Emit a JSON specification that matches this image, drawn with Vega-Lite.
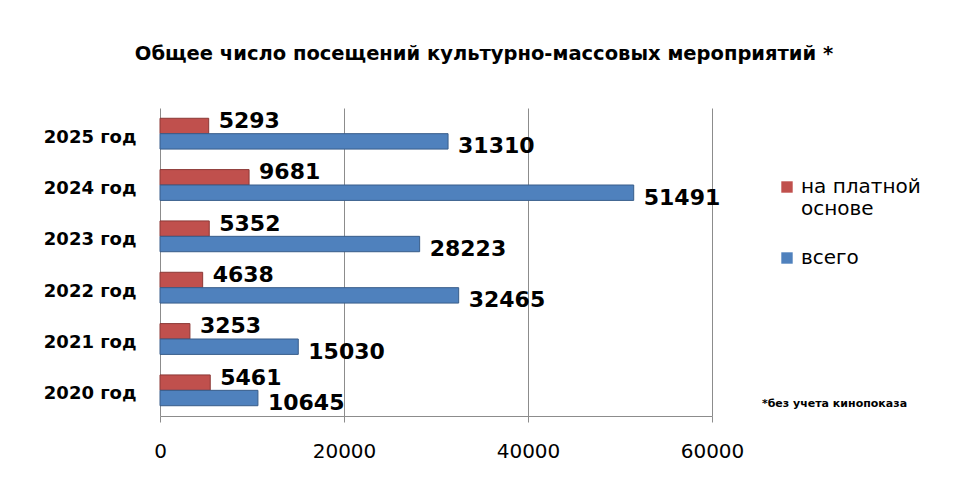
{
  "$schema": "https://vega.github.io/schema/vega-lite/v6.json",
  "autosize": {"type": "none"},
  "width": 552,
  "height": 308,
  "padding": {"left": 160, "top": 108, "right": 248, "bottom": 64},
  "background": "white",
  "title": {
    "text": "Общее число посещений культурно-массовых мероприятий *",
    "font": "DejaVu Sans",
    "fontSize": 19.5,
    "fontWeight": "bold",
    "color": "black",
    "anchor": "middle",
    "dx": 48,
    "offset": 44
  },
  "config": {
    "view": {"stroke": null},
    "font": "DejaVu Sans"
  },
  "data": {
    "values": [
      {"year": "2025 год", "series": "на платной основе", "value": 5293},
      {"year": "2025 год", "series": "всего", "value": 31310},
      {"year": "2024 год", "series": "на платной основе", "value": 9681},
      {"year": "2024 год", "series": "всего", "value": 51491},
      {"year": "2023 год", "series": "на платной основе", "value": 5352},
      {"year": "2023 год", "series": "всего", "value": 28223},
      {"year": "2022 год", "series": "на платной основе", "value": 4638},
      {"year": "2022 год", "series": "всего", "value": 32465},
      {"year": "2021 год", "series": "на платной основе", "value": 3253},
      {"year": "2021 год", "series": "всего", "value": 15030},
      {"year": "2020 год", "series": "на платной основе", "value": 5461},
      {"year": "2020 год", "series": "всего", "value": 10645}
    ]
  },
  "encoding": {
    "y": {
      "field": "year",
      "type": "nominal",
      "sort": ["2025 год", "2024 год", "2023 год", "2022 год", "2021 год", "2020 год"],
      "scale": {"paddingInner": 0.4, "paddingOuter": 0.2},
      "axis": {
        "title": null,
        "domain": false,
        "ticks": false,
        "labelFontSize": 18,
        "labelFontWeight": "bold",
        "labelColor": "black",
        "labelPadding": 24,
        "labelOffset": 4
      }
    },
    "yOffset": {
      "field": "series",
      "type": "nominal",
      "sort": ["на платной основе", "всего"]
    },
    "x": {
      "field": "value",
      "type": "quantitative",
      "scale": {"domain": [0, 60000], "nice": false},
      "axis": {
        "values": [0, 20000, 40000, 60000],
        "format": "d",
        "title": "*без учета кинопоказа",
        "titleX": 674,
        "titleY": -13,
        "titleAlign": "center",
        "titleBaseline": "middle",
        "titleFontSize": 11,
        "titleFontWeight": "bold",
        "titleColor": "black",
        "labelFontSize": 20,
        "labelColor": "black",
        "labelPadding": 19,
        "labelFlush": false,
        "domainColor": "#8c8c8c",
        "tickColor": "#8c8c8c",
        "tickSize": 6,
        "grid": true,
        "gridColor": "#8c8c8c",
        "gridWidth": 1
      }
    }
  },
  "layer": [
    {
      "mark": {"type": "bar", "strokeWidth": 1},
      "encoding": {
        "color": {
          "field": "series",
          "type": "nominal",
          "scale": {"domain": ["на платной основе", "всего"], "range": ["#C0504D", "#4F81BD"]},
          "legend": {
            "title": null,
            "orient": "none",
            "legendX": 617,
            "legendY": 69,
            "symbolType": "square",
            "symbolSize": 130,
            "symbolStrokeWidth": 0,
            "labelFontSize": 20,
            "labelColor": "black",
            "labelLimit": 200,
            "rowPadding": 29,
            "labelExpr": "datum.label == 'на платной основе' ? ['на платной', 'основе'] : datum.label",
            "encoding": {
              "labels": {"update": {"lineHeight": {"value": 28}}}
            }
          }
        },
        "stroke": {
          "field": "series",
          "type": "nominal",
          "scale": {"domain": ["на платной основе", "всего"], "range": ["#8c3836", "#385d8a"]},
          "legend": null
        }
      }
    },
    {
      "transform": [{"filter": "datum.series == 'на платной основе'"}],
      "mark": {"type": "text", "align": "left", "baseline": "middle", "dx": 10, "dy": -5, "fontSize": 22, "fontWeight": "bold", "color": "black"},
      "encoding": {"text": {"field": "value", "type": "quantitative", "format": "d"}}
    },
    {
      "transform": [{"filter": "datum.series == 'всего'"}],
      "mark": {"type": "text", "align": "left", "baseline": "middle", "dx": 10, "dy": 5, "fontSize": 22, "fontWeight": "bold", "color": "black"},
      "encoding": {"text": {"field": "value", "type": "quantitative", "format": "d"}}
    }
  ]
}
